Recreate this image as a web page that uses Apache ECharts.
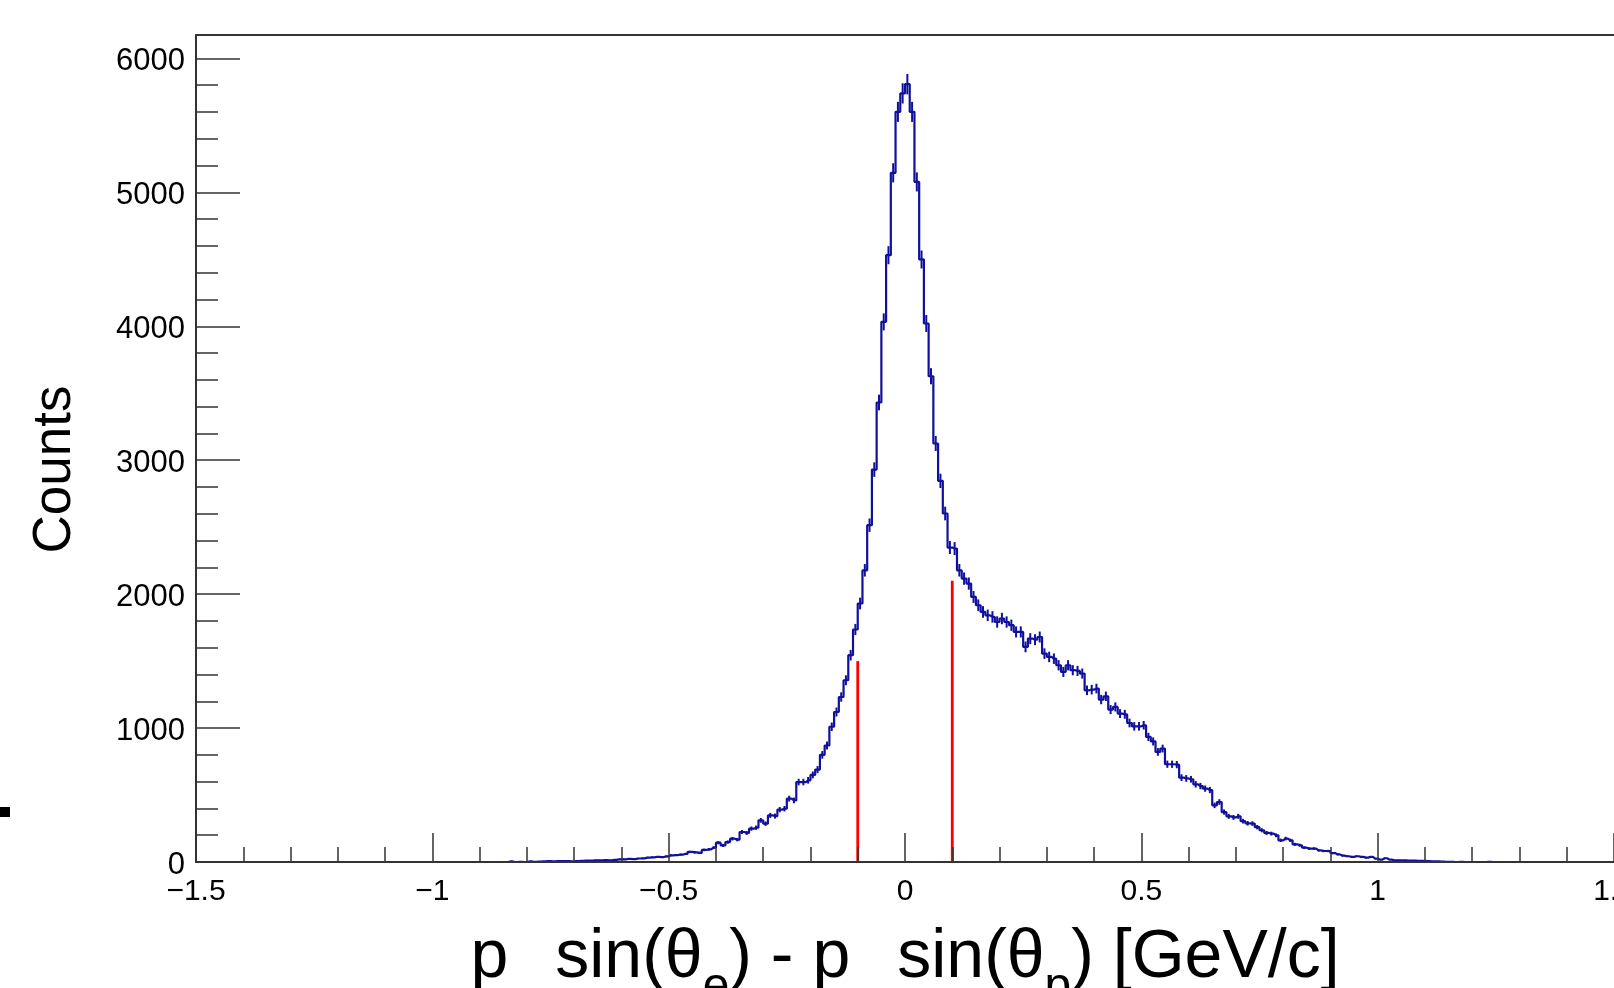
<!DOCTYPE html>
<html>
<head>
<meta charset="utf-8">
<script src="https://cdn.jsdelivr.net/npm/echarts@6/dist/echarts.min.js"></script>
<style>
html,body{margin:0;padding:0;background:#fff;}
#chart{width:1614px;height:988px;}
</style>
</head>
<body>
<div id="chart"></div>
<script>
// Histogram: bins of width 0.01 starting at firstBinLow
const firstBinLow = -0.85;
const binWidth = 0.01;
const counts = [
  0,4,0,1,0,
  4,2,3,5,6,5,6,7,6,5,
  7,8,11,10,13,12,14,12,16,19,
  20,24,22,26,27,33,35,38,37,42,
  50,52,55,60,75,72,68,90,95,107,
  144,124,149,174,167,224,217,249,256,311,
  286,348,343,391,398,473,460,597,597,610,
  650,690,800,870,1010,1120,1232,1357,1544,1736,
  1930,2178,2515,2930,3431,4033,4531,5146,5601,5739,
  5808,5601,5078,4499,4021,3627,3125,2846,2602,2348,
  2340,2178,2116,2079,1979,1917,1867,1842,1830,1792,
  1818,1792,1768,1718,1718,1606,1668,1660,1680,1556,
  1531,1518,1469,1419,1469,1432,1427,1407,1282,1287,
  1295,1213,1237,1138,1158,1108,1103,1038,1013,1013,
  1021,934,900,822,847,730,730,727,630,624,
  618,580,567,548,537,423,448,373,341,333,
  341,305,289,287,260,237,217,212,199,162,
  175,162,132,125,107,100,100,87,82,82,
  67,57,48,43,38,43,38,33,38,25,
  18,28,18,13,13,12,10,10,9,8,
  6,5,5,3,2,2,0,1,0,0,
  0,0,0,1,0
];
// Cut lines (red)
const cutX = [-0.1, 0.1];
const cutHeight = [1500, 2100];
// Axes
const xRange = [-1.5, 1.5];
const xMajorStep = 0.5;
const yRange = [0, 6175];
const yMajorStep = 1000;
const yMinorStep = 200;

const FONT = 'Liberation Sans, Arial, Helvetica, sans-serif';
const BLUE = '#10109c';
const AXC = '#333';

const histData = counts.map((c, i) => [+(firstBinLow + (i + 0.5) * binWidth).toFixed(4), c]);
const cutData = cutX.map((x, i) => [x, cutHeight[i]]);

const chart = echarts.init(document.getElementById('chart'), null, {renderer: 'canvas'});
chart.setOption({
  animation: false,
  backgroundColor: '#fff',
  grid: {left: 196, right: 0, top: 35, bottom: 126, containLabel: false, outerBoundsMode: 'none'},
  xAxis: [{
    type: 'value', min: xRange[0], max: xRange[1], interval: xMajorStep, z: 5,
    axisLine: {show: true, onZero: false, lineStyle: {color: AXC, width: 2}},
    axisTick: {show: true, inside: true, length: 29, lineStyle: {color: AXC, width: 1.5}},
    minorTick: {show: true, splitNumber: 5, length: 15, lineStyle: {color: AXC, width: 1.5}},
    splitLine: {show: false},
    axisLabel: {margin: 15, fontSize: 30, color: '#000', fontFamily: FONT,
      formatter: v => (v === 0 ? '0' : String(v).replace('-', '\u2212'))},
    name: '{t|p}{g| }{t|sin(\u03b8}{s|e}{t|) - p}{g| }{t|sin(\u03b8}{s|p}{t|) [GeV/c]}',
    nameLocation: 'middle', nameGap: 62,
    nameTextStyle: {
      color: '#000', fontFamily: FONT, verticalAlign: 'top',
      rich: {
        t: {fontSize: 68, lineHeight: 68, verticalAlign: 'top', fontFamily: FONT, color: '#000'},
        s: {fontSize: 48, lineHeight: 48, verticalAlign: 'top', padding: [40, 0, 0, 0], fontFamily: FONT, color: '#000'},
        g: {fontSize: 68, lineHeight: 68, verticalAlign: 'top', width: 47, fontFamily: FONT}
      }
    }
  }, {
    type: 'value', position: 'top', min: xRange[0], max: xRange[1], z: 5,
    axisLine: {show: true, onZero: false, lineStyle: {color: AXC, width: 2}},
    axisTick: {show: false}, axisLabel: {show: false}, splitLine: {show: false}
  }],
  yAxis: [{
    type: 'value', min: yRange[0], max: yRange[1], interval: yMajorStep, z: 5,
    axisLine: {show: true, onZero: false, lineStyle: {color: AXC, width: 2}},
    axisTick: {show: true, inside: true, length: 44, lineStyle: {color: AXC, width: 1.5}},
    splitLine: {show: false},
    axisLabel: {margin: 11, fontSize: 31, color: '#000', fontFamily: FONT, showMaxLabel: false,
      verticalAlign: 'top', lineHeight: 6, formatter: v => String(v)},
    name: 'Counts', nameLocation: 'middle', nameRotate: 90, nameGap: 114,
    nameTextStyle: {fontSize: 53, color: '#000', fontFamily: FONT, padding: [0, 42, 0, 0]}
  }, {
    type: 'value', position: 'left', min: yRange[0], max: yRange[1], interval: yMinorStep, z: 5,
    axisLine: {show: false, onZero: false},
    axisTick: {show: true, inside: true, length: 22, lineStyle: {color: AXC, width: 1.5}},
    axisLabel: {show: false}, splitLine: {show: false}
  }],
  series: [{
    type: 'line', xAxisIndex: 0, yAxisIndex: 0, step: 'middle',
    data: histData, showSymbol: false, symbol: 'none',
    lineStyle: {color: BLUE, width: 2.2}, z: 2, silent: true
  }, {
    type: 'custom', xAxisIndex: 0, yAxisIndex: 0, data: histData, z: 2, silent: true,
    renderItem: (params, api) => {
      const x = api.value(0), n = api.value(1);
      if (!(n > 0)) return null;
      const e = Math.sqrt(n);
      const a = api.coord([x, n - e]), b = api.coord([x, n + e]);
      return {type: 'line', shape: {x1: a[0], y1: a[1], x2: b[0], y2: b[1]},
        style: {stroke: BLUE, lineWidth: 2}};
    }
  }, {
    type: 'custom', xAxisIndex: 0, yAxisIndex: 0, data: cutData, z: 3, silent: true,
    renderItem: (params, api) => {
      const x = api.value(0), h = api.value(1);
      const a = api.coord([x, 0]), b = api.coord([x, h]);
      return {type: 'line', shape: {x1: a[0], y1: a[1], x2: b[0], y2: b[1]},
        style: {stroke: '#ff0000', lineWidth: 2.8}};
    }
  }],
  graphic: [{
    type: 'rect', shape: {x: 0, y: 807, width: 10, height: 10}, style: {fill: '#000'}
  }]
});
</script>
</body>
</html>
